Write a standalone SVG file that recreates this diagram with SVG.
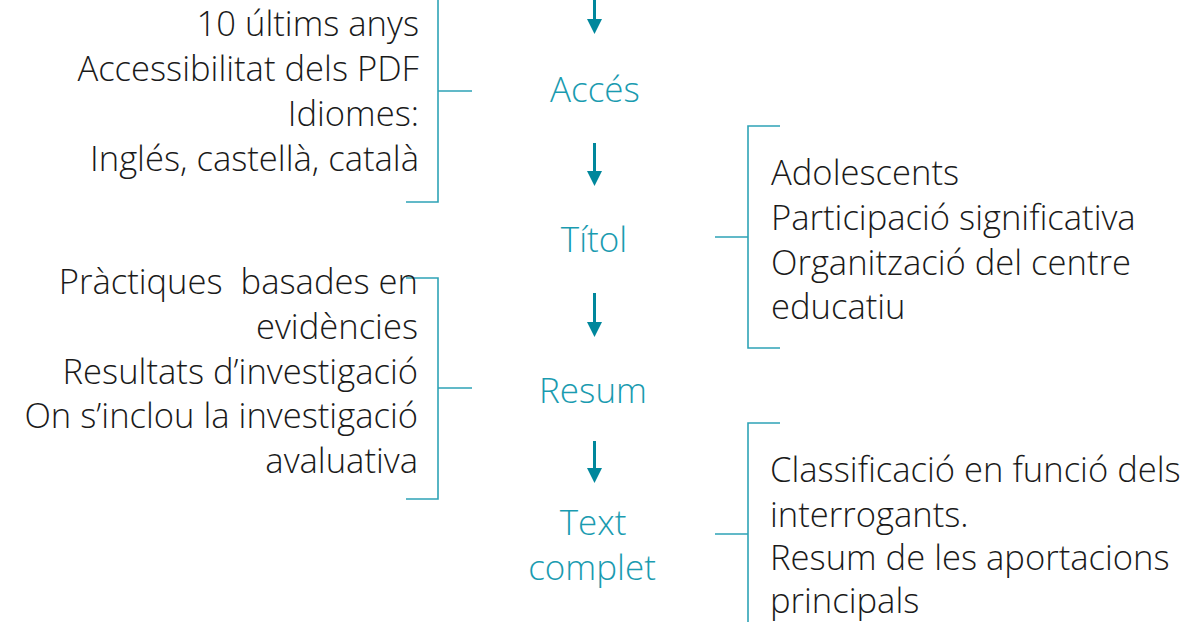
<svg xmlns="http://www.w3.org/2000/svg" width="1189" height="622" viewBox="0 0 1189 622">
<defs>
<style>
.t{font-family:"Open Sans","Segoe UI",sans-serif;font-weight:300;font-size:34.6px;fill:#1a1a1a;white-space:pre}
.r{text-anchor:end}
.c{font-family:"Open Sans","Segoe UI",sans-serif;font-weight:300;font-size:35px;fill:#1a9bb0;text-anchor:middle}
.br{fill:none;stroke:#2ea3b6;stroke-width:1.6}
.ar{stroke:#00879c;stroke-width:3;fill:none}
.ah{fill:#00879c}
</style>
</defs>
<rect width="1189" height="622" fill="#ffffff"/>
<g id="connectors">
<line class="ar" x1="594.5" y1="0" x2="594.5" y2="21"/><polygon class="ah" points="587,19 602,19 594.5,34"/>
<line class="ar" x1="594.5" y1="143" x2="594.5" y2="173"/><polygon class="ah" points="587,171 602,171 594.5,186"/>
<line class="ar" x1="594.5" y1="293" x2="594.5" y2="324"/><polygon class="ah" points="587,322 602,322 594.5,337"/>
<line class="ar" x1="594.5" y1="441" x2="594.5" y2="470"/><polygon class="ah" points="587,468 602,468 594.5,483"/>
<path class="br" d="M438,0 V202 H406 M438,91 H472"/>
<path class="br" d="M406,278 H438 V499 H406 M438,388 H472"/>
<path class="br" d="M780,126 H748 V348 H780 M748,237 H715"/>
<path class="br" d="M780,423 H748 V622 M748,534 H715"/>
</g>
<g id="node-acces"><text class="c" x="595" y="102">Accés</text></g>
<g id="node-titol"><text class="c" x="594" y="252">Títol</text></g>
<g id="node-resum"><text class="c" x="593" y="403">Resum</text></g>
<g id="node-text-complet"><text class="c" x="593" y="535">Text</text><text class="c" x="592" y="580">complet</text></g>
<g id="note-acces">
<text class="t r" x="419" y="36">10 últims anys</text>
<text class="t r" x="419" y="81">Accessibilitat dels PDF</text>
<text class="t r" x="419" y="126">Idiomes:</text>
<text class="t r" x="419" y="171">Inglés, castellà, català</text>
</g>
<g id="note-resum">
<text class="t r" x="418" y="294">Pràctiques  basades en</text>
<text class="t r" x="418" y="339">evidències</text>
<text class="t r" x="418" y="384">Resultats d’investigació</text>
<text class="t r" x="418" y="428">On s’inclou la investigació</text>
<text class="t r" x="418" y="473">avaluativa</text>
</g>
<g id="note-titol">
<text class="t" x="771" y="185">Adolescents</text>
<text class="t" x="771" y="230">Participació significativa</text>
<text class="t" x="771" y="275">Organització del centre</text>
<text class="t" x="771" y="319">educatiu</text>
</g>
<g id="note-text-complet">
<text class="t" x="770" y="482">Classificació en funció dels</text>
<text class="t" x="770" y="527">interrogants.</text>
<text class="t" x="770" y="570">Resum de les aportacions</text>
<text class="t" x="770" y="613">principals</text>
</g>
</svg>
